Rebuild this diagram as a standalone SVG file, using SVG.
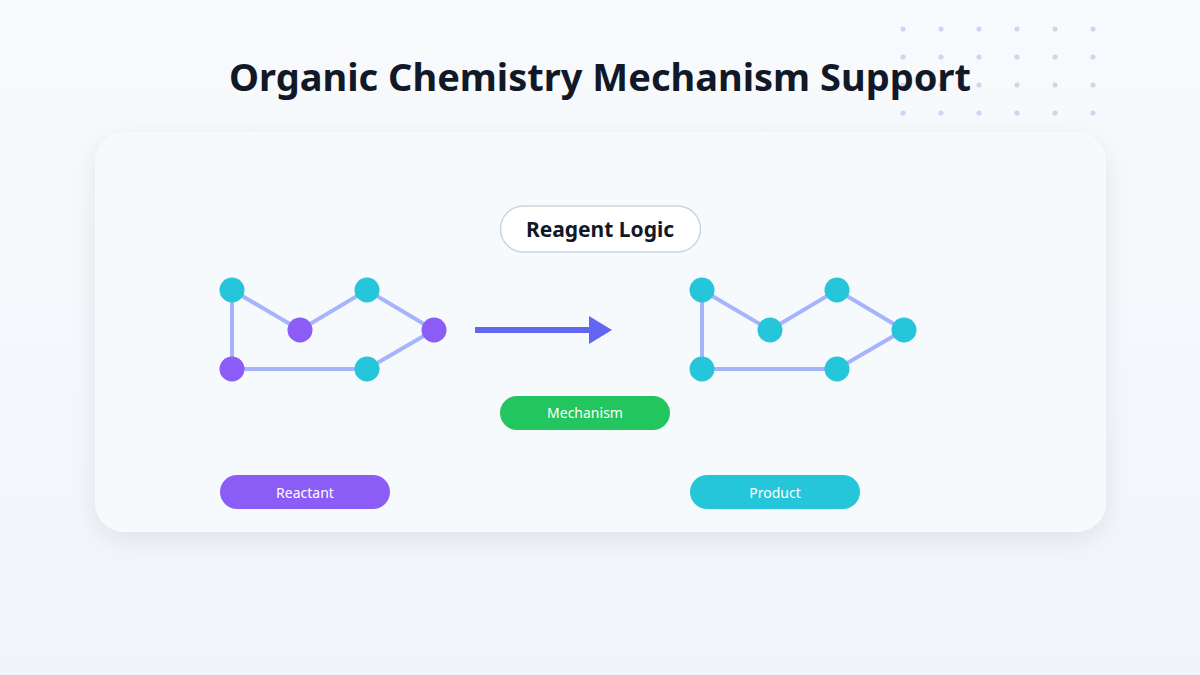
<svg xmlns="http://www.w3.org/2000/svg" width="1200" height="675" viewBox="0 0 1200 675">
<defs>
<linearGradient id="bg" x1="0" y1="0" x2="0" y2="1"><stop offset="0" stop-color="#f8fafc"/><stop offset="1" stop-color="#f1f5fb"/></linearGradient>
<filter id="sh" x="-10%" y="-15%" width="120%" height="140%"><feDropShadow dx="0" dy="8" stdDeviation="12" flood-color="#0f172a" flood-opacity="0.08"/></filter>
<pattern id="dots" x="884" y="10" width="38" height="28" patternUnits="userSpaceOnUse"><circle cx="19" cy="19" r="2.6" fill="#d4d4f0"/></pattern>
</defs>
<style>
.e{stroke:#a5b4fc;stroke-width:4;stroke-linecap:round}
.c{fill:#26c6da}.p{fill:#8b5cf6}
.t{font-family:"Segoe UI","Noto Sans","Liberation Sans",sans-serif}
</style>
<rect width="1200" height="675" fill="url(#bg)"/>
<rect x="884" y="10" width="228" height="112" fill="url(#dots)"/>
<text class="t" x="600" y="91" text-anchor="middle" font-size="38" font-weight="700" fill="#111827">Organic Chemistry Mechanism Support</text>
<rect x="95" y="132" width="1011" height="400" rx="30" fill="#f7fafd" filter="url(#sh)"/>
<g id="connectors">
<path class="e" d="M232 290L300 330L367 290L434 330L367 369L232 369Z" fill="none"/>
<path class="e" d="M702 290L770 330L837 290L904 330L837 369L702 369Z" fill="none"/>
<line x1="475" y1="330" x2="596" y2="330" stroke="#6366f1" stroke-width="6"/>
<polygon points="589,316 612,330 589,344" fill="#6366f1"/>
</g>
<g id="reactant-atoms">
<circle class="c" cx="232" cy="290" r="12.5"/><circle class="p" cx="300" cy="330" r="12.5"/><circle class="c" cx="367" cy="290" r="12.5"/><circle class="p" cx="434" cy="330" r="12.5"/><circle class="c" cx="367" cy="369" r="12.5"/><circle class="p" cx="232" cy="369" r="12.5"/>
</g>
<g id="product-atoms">
<circle class="c" cx="702" cy="290" r="12.5"/><circle class="c" cx="770" cy="330" r="12.5"/><circle class="c" cx="837" cy="290" r="12.5"/><circle class="c" cx="904" cy="330" r="12.5"/><circle class="c" cx="837" cy="369" r="12.5"/><circle class="c" cx="702" cy="369" r="12.5"/>
</g>
<g id="reagent-logic"><rect x="500.5" y="206" width="200" height="46" rx="23" fill="#fff" stroke="#cbd5e1" stroke-width="1.5"/><text class="t" x="600" y="237" text-anchor="middle" font-size="21" font-weight="700" fill="#111827">Reagent Logic</text></g>
<g id="mechanism"><rect x="500" y="396" width="170" height="34" rx="17" fill="#22c55e"/><text class="t" x="585" y="418" text-anchor="middle" font-size="14" fill="#fff">Mechanism</text></g>
<g id="reactant"><rect x="220" y="475" width="170" height="34" rx="17" fill="#8b5cf6"/><text class="t" x="305" y="498" text-anchor="middle" font-size="14" fill="#fff">Reactant</text></g>
<g id="product"><rect x="690" y="475" width="170" height="34" rx="17" fill="#26c6da"/><text class="t" x="775" y="498" text-anchor="middle" font-size="14" fill="#fff">Product</text></g>
</svg>
